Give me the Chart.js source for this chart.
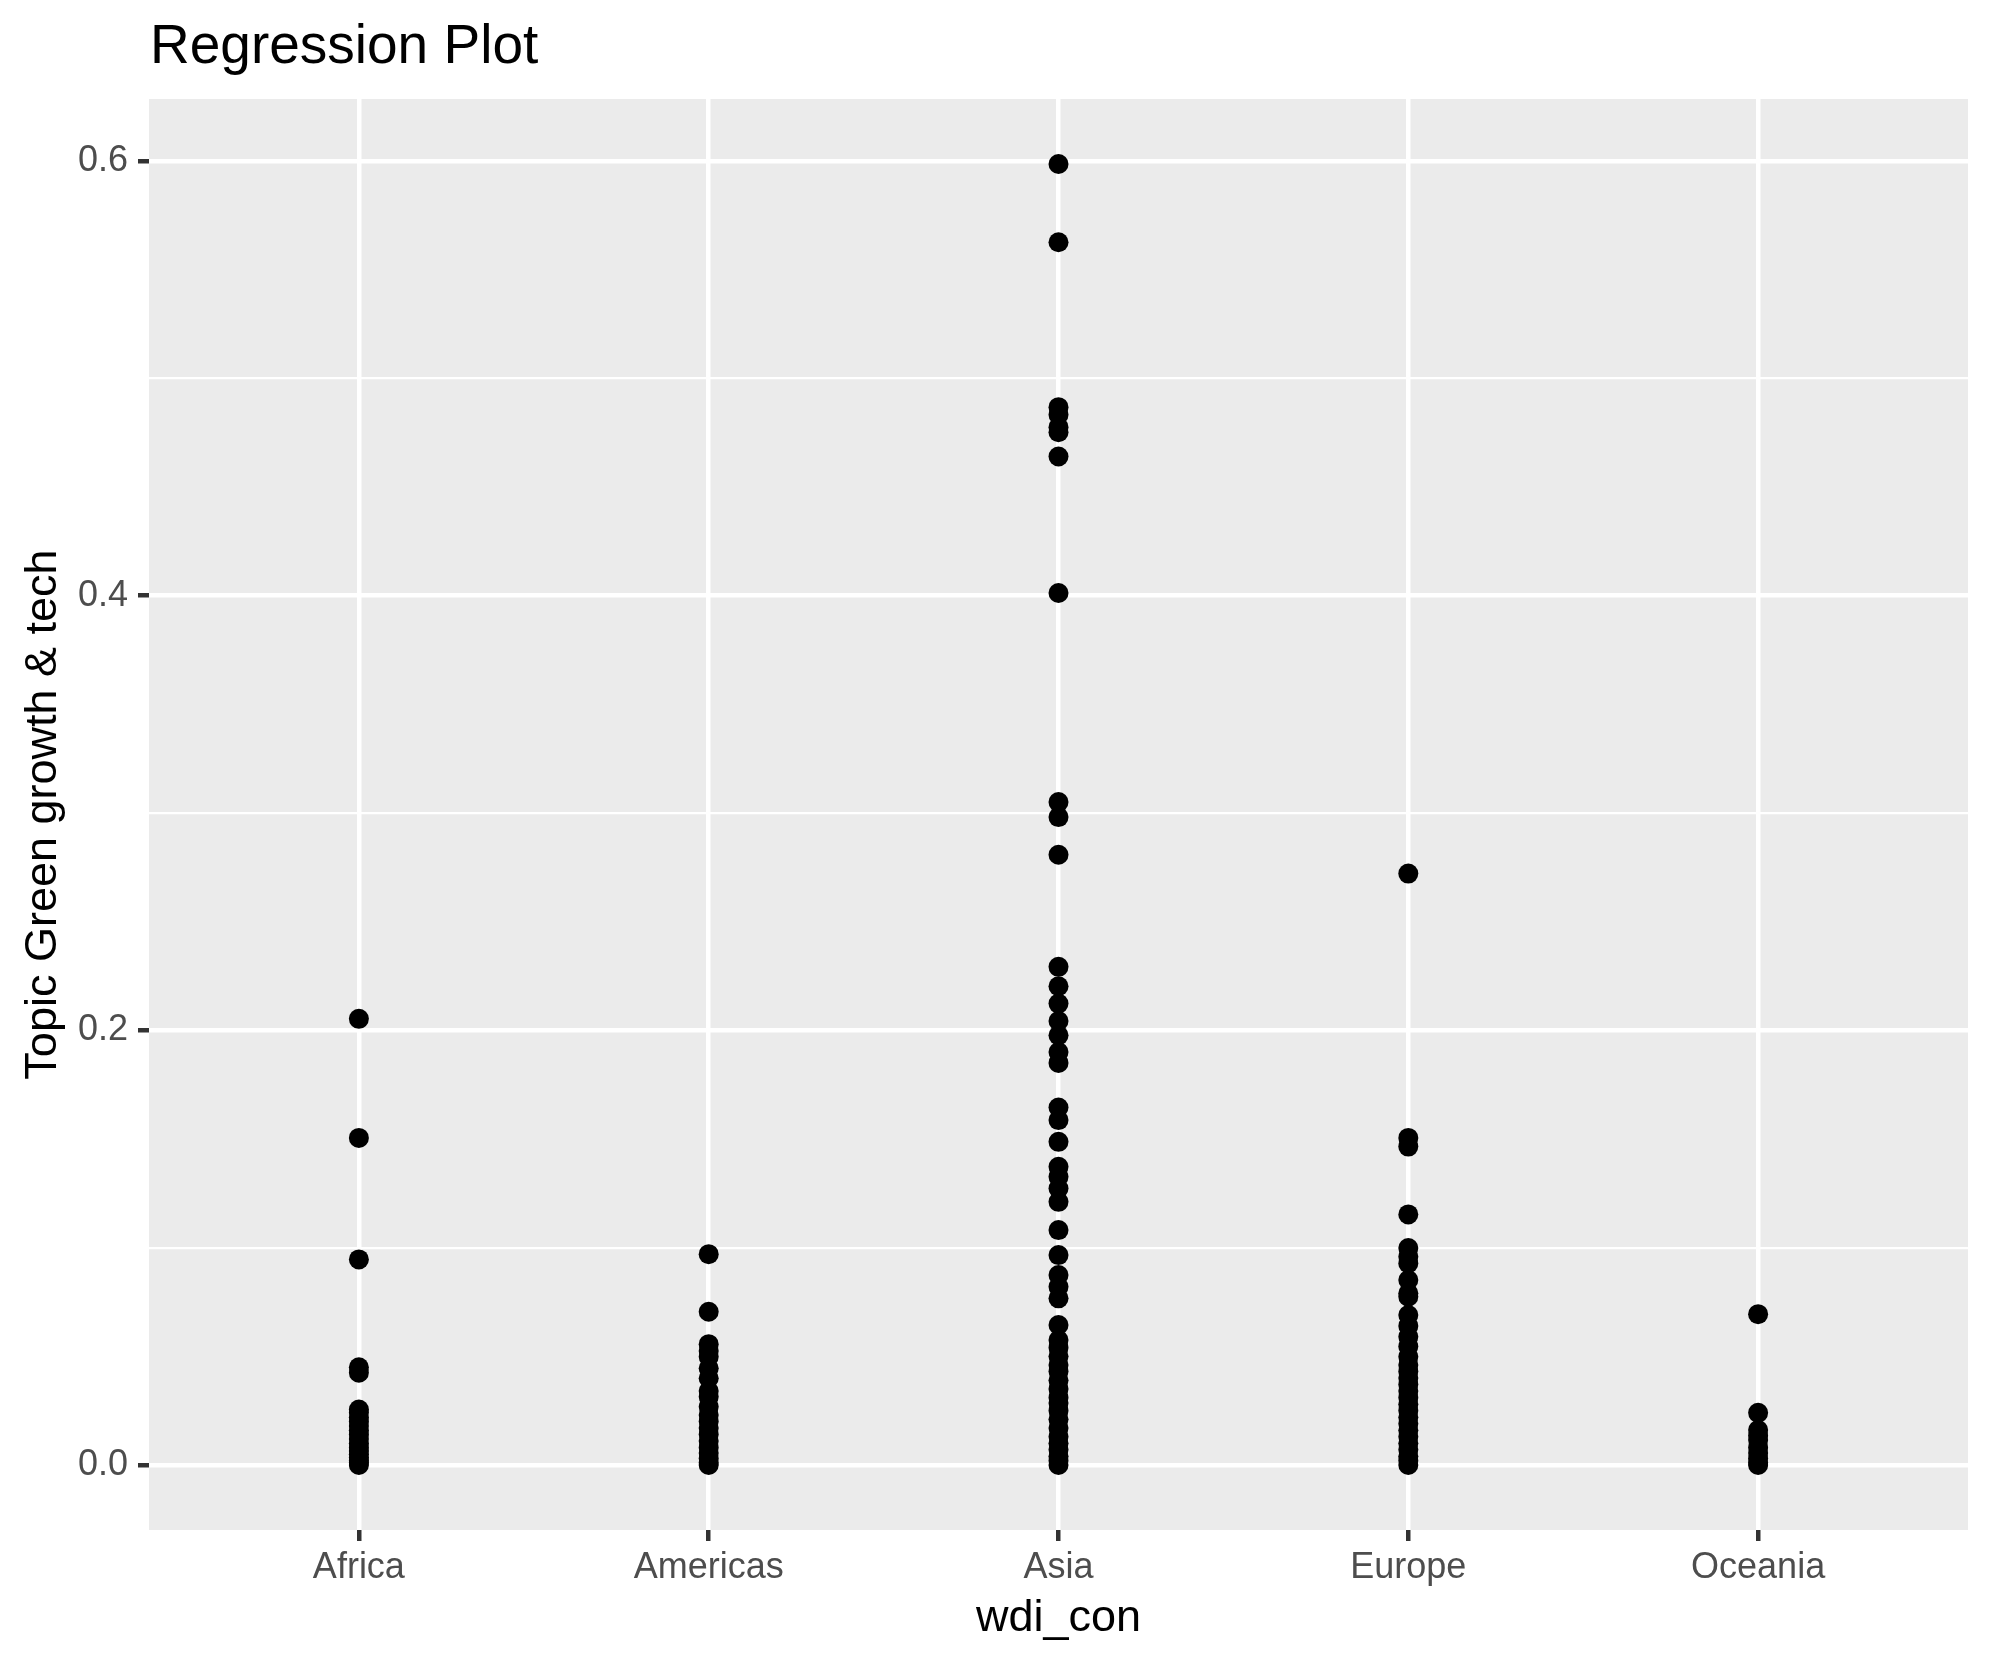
<!DOCTYPE html>
<html>
<head>
<meta charset="utf-8">
<script src="https://cdn.jsdelivr.net/npm/chart.js@4"></script>
<style>
  html, body { margin: 0; padding: 0; background: #fff; }
  #wrap { width: 1990px; height: 1665px; }
</style>
</head>
<body>
<div id="wrap"><canvas id="scatterChart"></canvas></div>
<script>
const categories = ["Africa", "Americas", "Asia", "Europe", "Oceania"];

const africa = [0.2053, 0.1505, 0.0946, 0.045, 0.0425, 0.0255, 0.024, 0.022, 0.02, 0.018,
  0.016, 0.014, 0.012, 0.01, 0.008, 0.0065, 0.005, 0.0035, 0.002, 0.001, 0.0];
const americas = [0.097, 0.0705, 0.0556, 0.0525, 0.0498, 0.0445, 0.0399, 0.034, 0.0314, 0.0268,
  0.023, 0.02, 0.017, 0.014, 0.011, 0.008, 0.0055, 0.003, 0.001, 0.0];
const asia = [0.5986, 0.5626, 0.4867, 0.4832, 0.4775, 0.4752, 0.464, 0.4012, 0.305, 0.2981,
  0.2808, 0.2292, 0.2203, 0.2123, 0.2043, 0.1977, 0.19, 0.185, 0.1645, 0.1587,
  0.1487, 0.1372, 0.1326, 0.1272, 0.1211, 0.1081, 0.0966, 0.0874, 0.082, 0.0767,
  0.0644, 0.0575, 0.054, 0.05, 0.046, 0.043, 0.039, 0.035, 0.031, 0.0285,
  0.025, 0.021, 0.017, 0.013, 0.01, 0.007, 0.004, 0.002, 0.0];
const europe = [0.2721, 0.1505, 0.1465, 0.1153, 0.0998, 0.0958, 0.0927, 0.0851, 0.079, 0.0774,
  0.069, 0.064, 0.059, 0.0545, 0.0498, 0.046, 0.043, 0.04, 0.037, 0.034,
  0.031, 0.028, 0.025, 0.022, 0.019, 0.016, 0.013, 0.01, 0.007, 0.004, 0.002, 0.0];
const oceania = [0.0694, 0.024, 0.0161, 0.0135, 0.0115, 0.008, 0.0055, 0.003, 0.001, 0.0];

const yMajor = [0, 0.2, 0.4, 0.6];
const yMinor = [0.1, 0.3, 0.5];
const yTickLabels = ["0.0", "0.2", "0.4", "0.6"];

const series = [africa, americas, asia, europe, oceania];
const points = [];
series.forEach((vals, i) => vals.forEach(v => points.push({ x: i, y: v })));

const FONT = "'Liberation Sans', Arial, Helvetica, sans-serif";

const isMajor = v => yMajor.some(m => Math.abs(m - v) < 1e-9);

// grey ggplot panel + title
const panelBg = {
  id: "panelBg",
  beforeDraw(chart) {
    const { ctx, chartArea: a } = chart;
    ctx.save();
    ctx.fillStyle = "#EBEBEB";
    ctx.fillRect(a.left, a.top, a.right - a.left, a.bottom - a.top);
    ctx.restore();
  },
  afterDraw(chart) {
    const ctx = chart.ctx;
    ctx.save();
    ctx.fillStyle = "#000";
    ctx.font = "55px " + FONT;
    ctx.textBaseline = "alphabetic";
    ctx.textAlign = "left";
    ctx.fillText("Regression Plot", 150, 63);
    ctx.restore();
  }
};

const ctx = document.getElementById("scatterChart").getContext("2d");

const chart = new Chart(ctx, {
  type: "scatter",
  data: {
    datasets: [
      {
        data: points,
        backgroundColor: "#000",
        borderWidth: 0,
        pointRadius: 10,
        pointHoverRadius: 10,
      },
    ],
  },
  plugins: [panelBg],
  options: {
    responsive: true,
    maintainAspectRatio: false,
    animation: false,
    layout: { padding: { top: 99, right: 22, left: 0, bottom: 0 } },
    plugins: {
      legend: { display: false },
      tooltip: { enabled: false },
    },
    scales: {
      x: {
        type: "linear",
        min: -0.6,
        max: 4.6,
        afterBuildTicks: (axis) => {
          axis.ticks = categories.map((c, i) => ({ value: i }));
        },
        afterFit: (axis) => { axis.height = 135; },
        border: { display: false },
        grid: {
          color: "#FFFFFF",
          lineWidth: 4.5,
          tickColor: "#333333",
          tickWidth: 4.5,
          tickLength: 11,
        },
        ticks: {
          color: "#4D4D4D",
          font: { family: FONT, size: 36 },
          padding: 5,
          maxRotation: 0,
          callback: (v) => categories[v],
        },
        title: {
          display: true,
          text: "wdi_con",
          color: "#000",
          font: { family: FONT, size: 45 },
          padding: { top: 0, bottom: 19 },
        },
      },
      y: {
        type: "linear",
        min: -0.0299,
        max: 0.6285,
        afterBuildTicks: (axis) => {
          axis.ticks = yMajor.concat(yMinor).sort((a, b) => a - b).map(v => ({ value: v }));
        },
        afterFit: (axis) => { axis.width = 149; },
        border: { display: false },
        grid: {
          color: "#FFFFFF",
          lineWidth: (c) => (isMajor(c.tick.value) ? 4.5 : 2.3),
          tickColor: (c) => (isMajor(c.tick.value) ? "#333333" : "rgba(0,0,0,0)"),
          tickWidth: 4.5,
          tickLength: 11,
        },
        ticks: {
          color: "#4D4D4D",
          font: { family: FONT, size: 36 },
          padding: 10,
          callback: (v) => {
            const k = yMajor.findIndex(m => Math.abs(m - v) < 1e-9);
            return k >= 0 ? yTickLabels[k] : "";
          },
        },
        title: {
          display: true,
          text: "Topic Green growth & tech",
          color: "#000",
          font: { family: FONT, size: 45 },
          padding: { top: 17, bottom: 0 },
        },
      },
    },
  },
});
</script>
</body>
</html>
